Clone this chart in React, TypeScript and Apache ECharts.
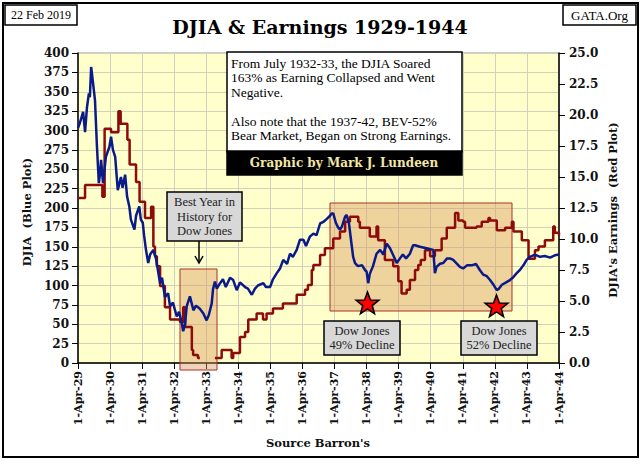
import React, { useEffect, useRef } from "react";
import * as echarts from "echarts";

// DJIA weekly-ish readings (decimal year, index level)
const DJIA_DATES = [
  1929.25, 1929.31, 1929.41, 1929.47, 1929.53, 1929.59, 1929.62, 1929.66, 1929.72, 1929.78,
  1929.84, 1929.90, 1929.94, 1929.97, 1930.03, 1930.12, 1930.23, 1930.28, 1930.34, 1930.41,
  1930.49, 1930.59, 1930.64, 1930.72, 1930.78, 1930.85, 1930.90, 1931.01, 1931.06, 1931.16,
  1931.21, 1931.27, 1931.31, 1931.37, 1931.44, 1931.50, 1931.60, 1931.68, 1931.81, 1931.87,
  1931.96, 1932.06, 1932.12, 1932.21, 1932.33, 1932.40, 1932.48, 1932.53, 1932.59, 1932.64,
  1932.74, 1932.85, 1932.93, 1933.05, 1933.16, 1933.26, 1933.33, 1933.42, 1933.46, 1933.52,
  1933.58, 1933.68, 1933.77, 1933.86, 1933.99, 1934.09, 1934.20, 1934.30, 1934.46, 1934.55,
  1934.67, 1934.77, 1934.86, 1935.03, 1935.11, 1935.24, 1935.33, 1935.45, 1935.55, 1935.65,
  1935.77, 1935.86, 1935.95, 1936.07, 1936.17, 1936.28, 1936.36, 1936.48, 1936.59, 1936.69,
  1936.80, 1936.90, 1937.01, 1937.11, 1937.16, 1937.21, 1937.29, 1937.36, 1937.42, 1937.48,
  1937.58, 1937.63, 1937.70, 1937.76, 1937.83, 1937.89, 1937.98, 1938.11, 1938.20, 1938.25,
  1938.30, 1938.35, 1938.45, 1938.56, 1938.67, 1938.77, 1938.88, 1938.98, 1939.07, 1939.19,
  1939.29, 1939.38, 1939.48, 1939.60, 1939.70, 1939.76, 1939.91, 1940.12, 1940.33, 1940.38,
  1940.43, 1940.54, 1940.64, 1940.76, 1940.85, 1940.95, 1941.07, 1941.16, 1941.26, 1941.38,
  1941.53, 1941.66, 1941.78, 1941.89, 1942.00, 1942.10, 1942.19, 1942.31, 1942.38, 1942.47,
  1942.60, 1942.72, 1942.81, 1942.93, 1943.03, 1943.14, 1943.24, 1943.34, 1943.45, 1943.55,
  1943.66, 1943.81, 1943.97, 1944.12, 1944.25,
];
const DJIA_VALUES = [
  303, 310, 324, 298, 330, 348, 343, 382, 361, 339,
  280, 232, 245, 262, 232, 266, 279, 292, 275, 266,
  223, 240, 226, 243, 215, 202, 185, 172, 190, 202,
  185, 181, 165, 146, 129, 140, 146, 135, 103, 110,
  85, 90, 73, 78, 60, 66, 53, 41, 51, 73,
  86, 68, 74, 70, 64, 55, 62, 77, 95, 105,
  96, 103, 108, 98, 110, 107, 94, 104, 98, 96,
  88, 96, 100, 103, 98, 98, 108, 116, 122, 133,
  128, 141, 137, 146, 159, 159, 151, 163, 167, 165,
  180, 182, 186, 190, 193, 193, 181, 175, 172, 176,
  189, 191, 180, 160, 137, 129, 125, 126, 120, 118,
  103, 115, 125, 141, 146, 140, 154, 148, 140, 129,
  135, 140, 135, 141, 152, 152, 150, 148, 146, 116,
  124, 128, 129, 135, 135, 133, 128, 124, 122, 126,
  126, 128, 120, 114, 112, 107, 102, 94, 96, 101,
  104, 107, 110, 116, 120, 126, 133, 137, 139, 139,
  137, 138, 136, 139, 140,
];

// DJIA earnings (decimal year where a new level starts, dollars); null = negative, not plotted
const EARN_DATES = [
  1929.25, 1929.47, 1930.01, 1930.08, 1930.28, 1930.51, 1930.58, 1930.79, 1930.86, 1931.06,
  1931.17, 1931.34, 1931.53, 1931.60, 1931.65, 1931.71, 1931.81, 1931.96, 1932.12, 1932.43,
  1932.53, 1932.59, 1932.80, 1932.84, 1932.99, 1933.05, 1933.06, 1933.52, 1933.73, 1934.04,
  1934.09, 1934.30, 1934.46, 1934.56, 1934.82, 1935.02, 1935.13, 1935.33, 1935.64, 1936.07,
  1936.33, 1936.42, 1936.54, 1936.59, 1936.80, 1936.95, 1937.21, 1937.42, 1937.58, 1937.73,
  1937.99, 1938.04, 1938.35, 1938.56, 1938.61, 1938.82, 1939.08, 1939.24, 1939.34, 1939.50,
  1939.60, 1939.76, 1939.86, 1939.94, 1940.07, 1940.23, 1940.38, 1940.59, 1940.75, 1941.01,
  1941.11, 1941.26, 1941.32, 1941.68, 1941.84, 1942.05, 1942.10, 1942.31, 1942.57, 1942.78,
  1942.83, 1943.09, 1943.30, 1943.50, 1943.61, 1943.81, 1944.07, 1944.12, 1944.25,
];
const EARN_VALUES = [
  13.3, 14.35, 13.4, 18.9, 18.6, 20.3, 19.3, 18.0, 16.0, 14.6,
  13.0, 11.7, 12.6, 9.4, 8.6, 7.8, 6.2, 4.5, 3.5, 3.3,
  4.5, 2.9, 1.05, 0.65, 0.4, 0.4, null, 0.4, 1.05, 0.4,
  0.8, 2.1, 2.5, 3.5, 4.0, 3.5, 4.0, 4.4, 4.8, 5.5,
  5.9, 6.3, 7.5, 7.9, 8.7, 9.25, 10.05, 10.6, 11.4, 11.8,
  11.4, 10.9, 10.2, 11.0, 9.9, 8.3, 7.8, 6.6, 5.6, 5.9,
  6.7, 7.5, 7.9, 8.3, 9.1, 8.6, 9.1, 10.05, 10.9, 12.1,
  11.5, 11.4, 10.9, 11.0, 11.4, 11.7, 11.5, 10.7, 10.9, 11.4,
  10.6, 9.9, 8.4, 9.1, 9.4, 9.9, 11.0, 10.5, 10.3,
];

const START_YEAR = 1929.25; // 1-Apr-29
const YEAR_COUNT = 15;
const LEFT_MAX = 400;
const LEFT_STEP = 25;
const RIGHT_MAX = 25;
const RIGHT_STEP = 2.5;

const SERIF = "'Liberation Serif', 'Times New Roman', serif";
const SERIF_B = "'DejaVu Serif', Georgia, serif";

function starPoints(cx: number, cy: number, ro: number, ri: number) {
  const pts: number[][] = [];
  for (let i = 0; i < 10; i++) {
    const r = i % 2 === 0 ? ro : ri;
    const a = -Math.PI / 2 + (i * Math.PI) / 5;
    pts.push([cx + r * Math.cos(a), cy + r * Math.sin(a)]);
  }
  return pts;
}

export default function App() {
  const ref = useRef<HTMLDivElement>(null);
  useEffect(() => {
    if (!ref.current) return;
    const chart = echarts.init(ref.current, null, { renderer: "svg" });
    const djia = DJIA_DATES.map((d, i) => [d - START_YEAR, DJIA_VALUES[i]]);
    const earn = EARN_DATES.map((d, i) => [d - START_YEAR, EARN_VALUES[i]]);

    const shade = "rgba(214,150,90,0.42)";
    const shadeBorder = "#A8322A";

    chart.setOption({
      animation: false,
      backgroundColor: "#ffffff",
      grid: {
        left: 78,
        right: 83,
        top: 53,
        bottom: 101,
        show: true,
        backgroundColor: "#FFFFCC",
        borderColor: "#9a9a90",
        borderWidth: 1,
      },
      xAxis: {
        type: "value",
        min: 0,
        max: YEAR_COUNT,
        interval: 1,
        axisLine: { show: true, onZero: false, lineStyle: { color: "#000", width: 1.5 } },
        axisTick: { show: true, length: 6, lineStyle: { color: "#000" } },
        splitLine: { show: true, lineStyle: { color: "#D2D2BC", width: 1 } },
        axisLabel: {
          rotate: 90,
          margin: 8,
          fontFamily: SERIF_B,
          fontWeight: "bold",
          fontSize: 11,
          color: "#111",
          formatter: (v: number) => `1-Apr-${29 + Math.round(v)}`,
        },
      },
      yAxis: [
        {
          type: "value",
          min: 0,
          max: LEFT_MAX,
          interval: LEFT_STEP,
          position: "left",
          axisLine: { show: true, lineStyle: { color: "#000", width: 1.5 } },
          axisTick: { show: true, length: 6, lineStyle: { color: "#000" } },
          splitLine: { show: true, lineStyle: { color: "#D2D2BC", width: 1 } },
          axisLabel: {
            margin: 9,
            fontFamily: SERIF_B,
            fontWeight: "bold",
            fontSize: 12,
            color: "#111",
          },
        },
        {
          type: "value",
          min: 0,
          max: RIGHT_MAX,
          interval: RIGHT_STEP,
          position: "right",
          axisLine: { show: true, lineStyle: { color: "#000", width: 1.5 } },
          axisTick: { show: true, length: 6, lineStyle: { color: "#000" } },
          splitLine: { show: false },
          axisLabel: {
            margin: 10,
            fontFamily: SERIF_B,
            fontWeight: "bold",
            fontSize: 12,
            color: "#111",
            formatter: (v: number) => v.toFixed(1),
          },
        },
      ],
      series: [
        {
          name: "Earnings",
          type: "line",
          yAxisIndex: 1,
          data: earn,
          step: "end",
          showSymbol: false,
          connectNulls: false,
          lineStyle: { color: "#8E0B0B", width: 2.5 },
          z: 3,
        },
        {
          name: "DJIA",
          type: "line",
          yAxisIndex: 0,
          data: djia,
          showSymbol: false,
          lineStyle: { color: "#0B1A8A", width: 2.5 },
          z: 4,
        },
      ],
      graphic: [
        // outer frame
        { type: "rect", z: 10, shape: { x: 3, y: 3, width: 635, height: 454 }, style: { fill: "none", stroke: "#000", lineWidth: 2 } },
        // date & site tags
        { type: "rect", z: 10, shape: { x: 5, y: 5, width: 72, height: 20 }, style: { fill: "#fff", stroke: "#000", lineWidth: 1.5 } },
        { type: "text", z: 11, x: 41, y: 15, style: { text: "22 Feb 2019", font: `12px ${SERIF}`, fill: "#000", align: "center", verticalAlign: "middle" } },
        { type: "rect", z: 10, shape: { x: 563, y: 5, width: 73, height: 20 }, style: { fill: "#fff", stroke: "#000", lineWidth: 1.5 } },
        { type: "text", z: 11, x: 599.5, y: 15, style: { text: "GATA.Org", font: `13px ${SERIF}`, fill: "#000", align: "center", verticalAlign: "middle" } },
        // title
        { type: "text", z: 11, x: 320, y: 27, style: { text: "DJIA & Earnings 1929-1944", font: `bold 19px ${SERIF_B}`, fill: "#000", align: "center", verticalAlign: "middle" } },
        // axis names
        { type: "text", z: 11, x: 27, y: 212, rotation: Math.PI / 2, style: { text: "DJIA  (Blue Plot)", font: `bold 11.5px ${SERIF_B}`, fill: "#111", align: "center", verticalAlign: "middle" } },
        { type: "text", z: 11, x: 613, y: 210, rotation: Math.PI / 2, style: { text: "DJIA's Earnings  (Red Plot)", font: `bold 11.5px ${SERIF_B}`, fill: "#111", align: "center", verticalAlign: "middle" } },
        { type: "text", z: 11, x: 318, y: 443, style: { text: "Source Barron's", font: `bold 11.5px ${SERIF_B}`, fill: "#111", align: "center", verticalAlign: "middle" } },
        // shaded periods
        { type: "rect", z: 1, shape: { x: 180, y: 269, width: 37, height: 101 }, style: { fill: shade, stroke: shadeBorder, lineWidth: 1 } },
        { type: "rect", z: 1, shape: { x: 330, y: 203, width: 182, height: 108 }, style: { fill: shade, stroke: shadeBorder, lineWidth: 1 } },
        // text box
        { type: "rect", z: 10, shape: { x: 227, y: 52, width: 235, height: 100 }, style: { fill: "#fff", stroke: "#000", lineWidth: 1.5 } },
        { type: "rect", z: 10, shape: { x: 227, y: 151, width: 235, height: 24 }, style: { fill: "#000", stroke: "#000", lineWidth: 1.5 } },
        {
          type: "text", z: 11, x: 231, y: 56,
          style: {
            text: "From July 1932-33, the DJIA Soared\n163% as Earning Collapsed and Went\nNegative.\n\nAlso note that the 1937-42, BEV-52%\nBear Market, Began on Strong Earnings.",
            font: `13.5px ${SERIF}`, lineHeight: 14.5, fill: "#000", align: "left", verticalAlign: "top",
          },
        },
        { type: "text", z: 11, x: 344, y: 163, style: { text: "Graphic by Mark J. Lundeen", font: `bold 12px ${SERIF_B}`, fill: "#F3E6A6", align: "center", verticalAlign: "middle" } },
        // best year box
        { type: "rect", z: 10, shape: { x: 167, y: 192, width: 75, height: 49 }, style: { fill: "#D8D8D8", stroke: "#000", lineWidth: 1.5 } },
        { type: "text", z: 11, x: 204.5, y: 216.5, style: { text: "Best Year in\nHistory for\nDow Jones", font: `12.5px ${SERIF}`, lineHeight: 14.5, fill: "#222", align: "center", verticalAlign: "middle" } },
        { type: "line", z: 10, shape: { x1: 199, y1: 241, x2: 199, y2: 262 }, style: { stroke: "#000", lineWidth: 1.5 } },
        { type: "polyline", z: 10, shape: { points: [[195, 256], [199, 263], [203, 256]] }, style: { stroke: "#000", lineWidth: 1.5, fill: "none" } },
        // decline boxes
        { type: "rect", z: 10, shape: { x: 324, y: 321, width: 76, height: 34 }, style: { fill: "#D8D8D8", stroke: "#000", lineWidth: 1.5 } },
        { type: "text", z: 11, x: 362, y: 338, style: { text: "Dow Jones\n49% Decline", font: `12.5px ${SERIF}`, lineHeight: 14, fill: "#222", align: "center", verticalAlign: "middle" } },
        { type: "rect", z: 10, shape: { x: 461, y: 321, width: 76, height: 34 }, style: { fill: "#D8D8D8", stroke: "#000", lineWidth: 1.5 } },
        { type: "text", z: 11, x: 499, y: 338, style: { text: "Dow Jones\n52% Decline", font: `12.5px ${SERIF}`, lineHeight: 14, fill: "#222", align: "center", verticalAlign: "middle" } },
        // stars
        { type: "polygon", z: 10, shape: { points: starPoints(367.5, 304, 12, 5) }, style: { fill: "#FF0000", stroke: "#000", lineWidth: 1.5 } },
        { type: "polygon", z: 10, shape: { points: starPoints(496.5, 307, 12, 5) }, style: { fill: "#FF0000", stroke: "#000", lineWidth: 1.5 } },
      ],
    });
    return () => chart.dispose();
  }, []);
  return (
    <div
      ref={ref}
      style={{ position: "fixed", left: 0, top: 0, width: 642, height: 464, background: "#fff" }}
    />
  );
}
